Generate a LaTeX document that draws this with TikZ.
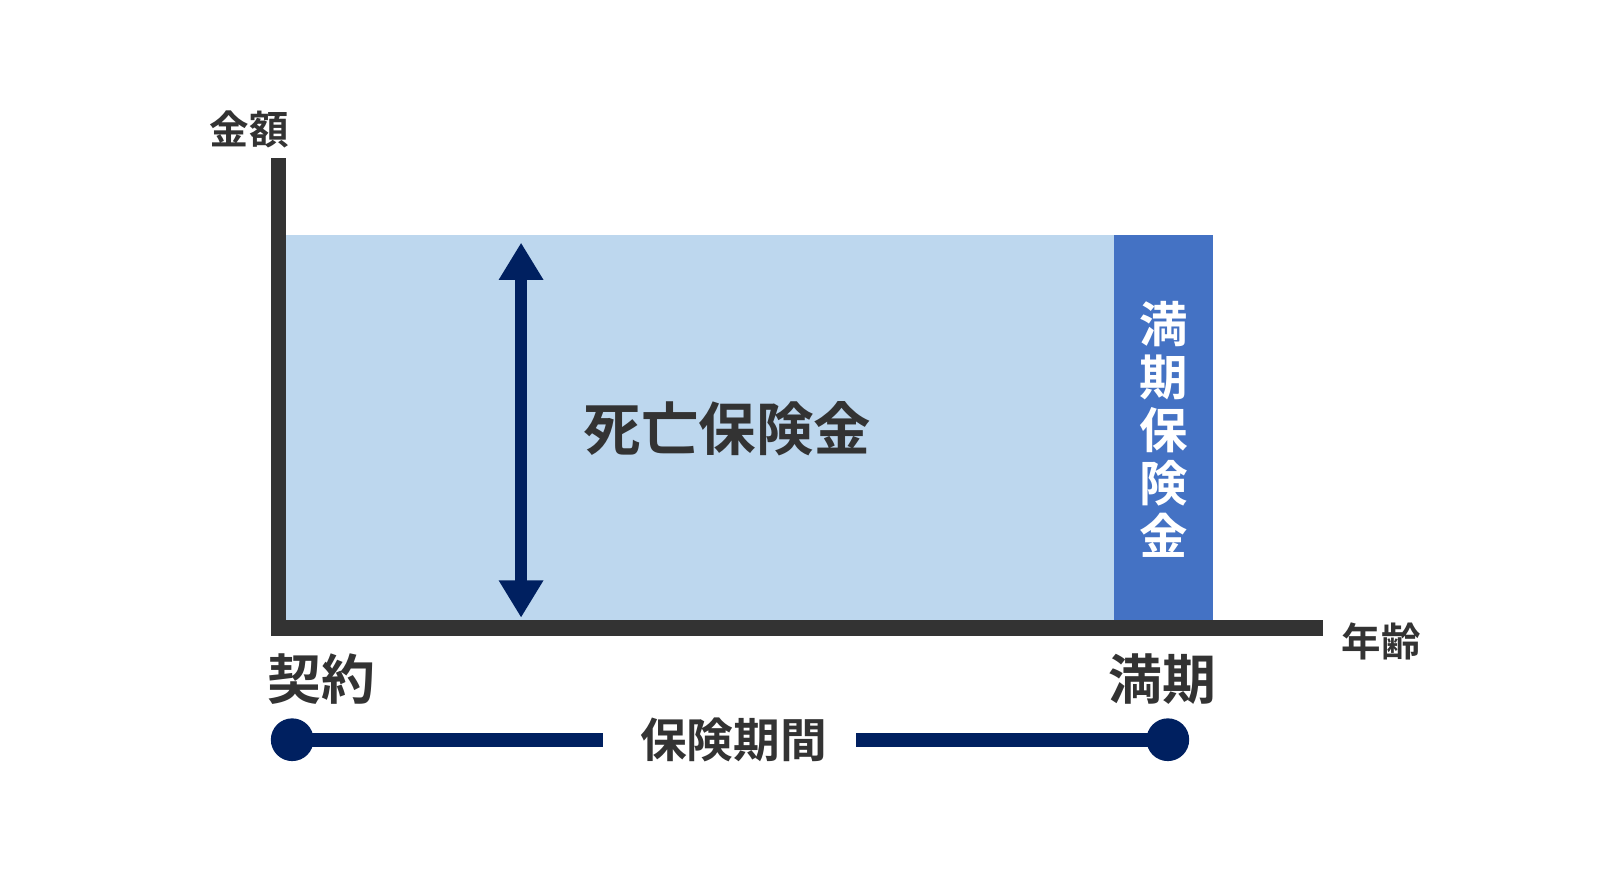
\documentclass[tikz,border=0pt]{standalone}
\usepackage{fontspec}
\newfontfamily\cjk{Noto Sans CJK JP Bold}
\definecolor{lb}{HTML}{BDD7EE}
\definecolor{db}{HTML}{4472C4}
\definecolor{navy}{HTML}{002060}
\definecolor{ax}{HTML}{333333}
\begin{document}
\begin{tikzpicture}[x=0.02cm,y=-0.02cm,
  lbl/.style={font=\cjk, text=ax, inner sep=0pt}]
\useasboundingbox (0,0) rectangle (1566,872);
\fill[lb] (280,230) rectangle (1090,608);
\fill[db] (1090,230) rectangle (1187,608);
\fill[ax] (265,155) rectangle (280,622);
\fill[ax] (265,607) rectangle (1295,622);
\coordinate (atop) at (510,238);
\coordinate (abot) at (510,604);
\draw[navy, line width=12*0.567pt] (510,270) -- (510,572);
\fill[navy] (atop) -- (532,274) -- (488,274) -- cycle;
\fill[navy] (abot) -- (532,568) -- (488,568) -- cycle;
\node[lbl, font=\cjk\fontsize{32pt}{32pt}\selectfont] (death) at (712,420) {死亡保険金};
\node[lbl, text=white, font=\cjk\fontsize{27pt}{29.5pt}\selectfont, align=center] (mat) at (1139,420) {満\\期\\保\\険\\金};
\node[lbl, font=\cjk\fontsize{22pt}{22pt}\selectfont] (yl) at (244,127) {金額};
\node[lbl, font=\cjk\fontsize{22pt}{22pt}\selectfont] (xl) at (1352,628) {年齢};
\node[lbl, font=\cjk\fontsize{30pt}{30pt}\selectfont] (k) at (315,665) {契約};
\node[lbl, font=\cjk\fontsize{30pt}{30pt}\selectfont] (m) at (1138,665) {満期};
\node[lbl, font=\cjk\fontsize{26pt}{26pt}\selectfont] (p) at (718,724) {保険期間};
\node[circle, fill=navy, minimum size=42*0.567pt, inner sep=0pt] (c1) at (286,724) {};
\node[circle, fill=navy, minimum size=42*0.567pt, inner sep=0pt] (c2) at (1143,724) {};
\coordinate (l1) at (590,724);
\coordinate (l2) at (838,724);
\draw[navy, line width=14*0.567pt] (c1.center) -- (l1);
\draw[navy, line width=14*0.567pt] (l2) -- (c2.center);
\end{tikzpicture}
\end{document}
